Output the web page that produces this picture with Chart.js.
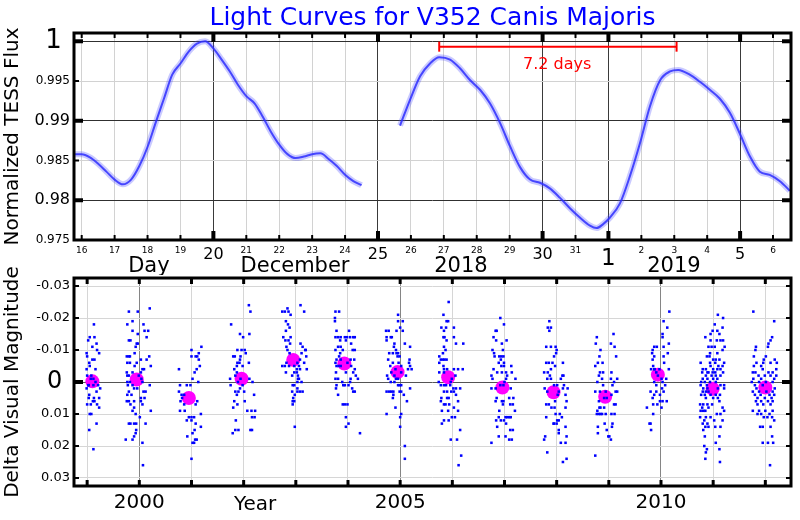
<!DOCTYPE html>
<html><head><meta charset="utf-8">
<script src="https://cdn.jsdelivr.net/npm/chart.js@4/dist/chart.umd.min.js"></script>
<style>
html,body{margin:0;padding:0;background:#fff;}
#wrap{position:relative;width:800px;height:520px;}
canvas{position:absolute;left:0;}
</style>
</head><body>
<div id="wrap">
<canvas id="lc" width="800" height="275" style="top:0"></canvas>
<canvas id="vm" width="800" height="265" style="top:255px"></canvas>
</div>
<script>
// ---------- TOP PANEL: TESS light curve (day = day of December 2018; Jan 1 = 32) ----------
const lcDay1  = [15.8,16.0,16.25,16.5,16.75,17.0,17.25,17.5,17.75,18.0,18.25,18.5,18.75,19.0,19.25,19.5,19.75,20.0,20.25,20.5,20.75,21.0,21.25,21.5,21.75,22.0,22.25,22.5,22.75,23.0,23.25,23.5,23.75,24.0,24.25,24.5];
const lcFlux1 = [0.9858,0.9858,0.9854,0.9846,0.9836,0.9826,0.9820,0.9826,0.9843,0.9867,0.9898,0.9928,0.9958,0.9972,0.9987,0.9997,1.0000,0.9991,0.9977,0.9962,0.9945,0.9931,0.9922,0.9905,0.9886,0.9870,0.9858,0.9853,0.9855,0.9858,0.9859,0.9852,0.9843,0.9832,0.9824,0.9819];
const lcDay2  = [25.67,25.97,26.28,26.58,26.86,27.19,27.49,27.80,28.10,28.40,28.71,29.01,29.31,29.62,29.92,30.22,30.53,30.83,31.14,31.44,31.64,31.84,32.04,32.35,32.65,32.96,33.26,33.57,33.87,34.12,34.47,34.78,35.08,35.38,35.69,35.99,36.30,36.60,36.90,37.21,37.51];
const lcFlux2 = [0.9894,0.9926,0.9956,0.9972,0.9980,0.9977,0.9966,0.9951,0.9939,0.9922,0.9897,0.9868,0.9842,0.9826,0.9822,0.9815,0.9803,0.9790,0.9778,0.9768,0.9765,0.9770,0.9778,0.9796,0.9830,0.9872,0.9918,0.9951,0.9962,0.9964,0.9958,0.9949,0.9939,0.9928,0.9910,0.9884,0.9855,0.9836,0.9832,0.9824,0.9812];
const periodDays  = [26.86, 34.07];
const periodLevel = 0.99932;
const periodText  = '7.2 days';

const dayTicks      = [16,17,18,19,20,21,22,23,24,25,26,27,28,29,30,31,32,33,34,35,36,37];
const dayTickLabels = ['16','17','18','19','20','21','22','23','24','25','26','27','28','29','30','31','1','2','3','4','5','6'];
const dayMajor      = [20,25,30,32,36];
const fluxTicks      = [0.975,0.98,0.985,0.99,0.995,1];
const fluxTickLabels = ['0.975','0.98','0.985','0.99','0.995','1'];
const fluxMajor      = [0.98,0.99,1];

// ---------- BOTTOM PANEL: visual estimates (decimal year, milli-magnitudes) ----------
const obs1999 = [[1999.13,-18],[1999.05,-14],[1999.14,-14],[1999.02,-13],[1999.18,-12],[1999.10,-11],[1999.19,-10],[1999.23,-9],[1998.99,-9],[1999.00,-8],[1999.10,-7],[1999.14,-7],[1999.04,-6],[1999.05,-5],[1998.99,-4],[1999.16,-4],[1999.08,-2],[1999.00,-2],[1999.12,-1],[1999.07,-1],[1999.03,1],[1999.12,1],[1999.21,1],[1999.25,2],[1999.18,3],[1999.04,4],[1999.03,5],[1999.13,5],[1999.23,5],[1999.11,6],[1999.14,6],[1999.19,7],[1999.00,7],[1999.07,7],[1999.23,8],[1999.05,10],[1999.08,10],[1999.18,13],[1999.04,15],[1999.12,21],[1999.02,1],[1999.16,0],[1998.99,2]];
const obs2000 = [[1999.80,-22],[1999.97,-22],[2000.20,-23],[1999.87,-19],[1999.77,-18],[2000.08,-18],[2000.10,-16],[2000.17,-16],[1999.87,-16],[1999.97,-15],[2000.14,-14],[1999.80,-13],[1999.83,-13],[1999.95,-12],[1999.97,-12],[1999.93,-11],[1999.91,-9],[1999.76,-8],[1999.80,-8],[1999.82,-8],[2000.19,-8],[2000.22,-5],[2000.14,-7],[1999.77,-6],[1999.82,-6],[1999.95,-6],[1999.91,-5],[2000.03,-7],[2000.06,-4],[2000.09,-4],[1999.76,-3],[1999.87,-3],[2000.03,-3],[1999.77,-2],[1999.80,-2],[2000.04,-1],[1999.77,0],[1999.82,0],[2000.06,0],[2000.20,1],[1999.78,1],[1999.90,2],[1999.96,2],[2000.08,3],[2000.12,3],[1999.77,4],[1999.85,4],[2000.03,5],[2000.10,5],[1999.76,6],[1999.80,6],[1999.90,6],[2000.03,6],[1999.83,7],[2000.06,7],[1999.90,8],[1999.87,9],[1999.93,10],[2000.22,9],[2000.01,11],[1999.80,13],[1999.83,13],[1999.90,13],[1999.94,13],[2000.12,13],[1999.94,15],[1999.93,16],[1999.90,17],[1999.74,18],[1999.87,18],[2000.06,19],[2000.07,26],[1999.99,-2],[1999.80,3],[1999.87,1]];
const obs2001 = [[2000.76,-4],[2000.78,1],[2000.91,1],[2000.98,1],[2001.02,-1],[2000.76,3],[2000.81,4],[2000.86,4],[2000.82,5],[2000.79,6],[2000.86,7],[2000.78,9],[2000.87,9],[2000.95,11],[2001.00,11],[2000.91,12],[2001.00,12],[2000.92,17],[2001.02,16],[2001.02,19],[2001.00,24],[2001.00,-10],[2001.00,-8],[2001.19,-11],[2001.14,-9],[2001.08,-8],[2001.11,-8],[2001.14,-7],[2001.16,-5],[2001.10,-4],[2001.06,-3],[2001.13,0],[2001.11,6],[2001.08,7],[2001.18,10],[2001.05,11],[2001.08,13],[2001.18,14],[2001.06,15],[2001.10,18],[2001.05,19],[2001.07,18]];
const obs2002 = [[2002.10,-24],[2002.13,-22],[2001.76,-18],[2001.93,-15],[2002.11,-15],[2001.99,-14],[2001.88,-10],[2001.96,-10],[2002.02,-10],[2002.04,-9],[2001.80,-8],[2001.83,-8],[2001.94,-8],[2001.93,-7],[2001.88,-6],[2001.92,-6],[2001.87,-5],[2001.98,-5],[2001.82,-4],[2002.10,-6],[2001.87,-3],[2001.84,-2],[2001.74,-1],[2002.11,-1],[2001.89,0],[2002.17,0],[2001.75,1],[2001.98,1],[2001.93,2],[2001.84,3],[2001.90,3],[2002.01,3],[2001.87,4],[2002.20,4],[2001.82,6],[2002.02,6],[2001.88,7],[2001.80,8],[2002.07,9],[2002.15,9],[2002.22,9],[2002.16,11],[2002.21,11],[2001.85,12],[2002.13,15],[2002.16,15],[2001.84,15],[2001.90,15],[2001.79,16],[2001.94,-1]];
const obs2003 = [[2002.84,-23],[2003.09,-24],[2002.74,-22],[2002.79,-22],[2002.86,-22],[2003.16,-22],[2002.90,-21],[2002.81,-19],[2002.85,-18],[2002.88,-17],[2002.81,-16],[2002.76,-14],[2002.90,-14],[2002.80,-13],[2002.86,-13],[2002.89,-12],[2002.82,-11],[2003.09,-12],[2003.13,-11],[2003.18,-10],[2003.19,-10],[2002.84,-10],[2002.88,-9],[2003.11,-9],[2003.20,-8],[2003.08,-7],[2002.82,-6],[2003.03,-6],[2003.16,-6],[2002.74,-5],[2002.79,-5],[2002.87,-5],[2002.97,-5],[2003.06,-5],[2003.21,-4],[2003.02,-4],[2003.08,-4],[2002.81,-3],[2002.97,-3],[2003.02,-3],[2003.04,-2],[2003.06,-1],[2003.11,0],[2003.03,0],[2002.97,1],[2002.94,1],[2003.03,2],[2002.93,3],[2003.03,3],[2003.08,3],[2003.13,3],[2002.98,4],[2002.95,5],[2002.94,6],[2002.97,6],[2002.94,7],[2002.98,14],[2002.93,-2],[2003.04,-1]];
const obs2004 = [[2003.76,-22],[2003.83,-22],[2003.75,-20],[2003.75,-19],[2003.78,-16],[2004.02,-16],[2003.76,-14],[2003.81,-14],[2003.86,-14],[2003.94,-14],[2003.98,-14],[2004.04,-14],[2004.10,-14],[2004.13,-14],[2003.85,-13],[2003.96,-13],[2004.06,-12],[2003.81,-11],[2003.86,-11],[2003.76,-10],[2003.90,-10],[2004.09,-10],[2004.13,-10],[2003.85,-9],[2003.83,-8],[2003.78,-7],[2003.86,-7],[2004.05,-7],[2004.12,-7],[2003.76,-6],[2003.78,-5],[2003.99,-6],[2003.82,-5],[2003.86,-5],[2004.06,-5],[2004.13,-4],[2003.77,-3],[2003.96,-3],[2004.10,-3],[2004.15,-2],[2004.19,-1],[2003.76,-1],[2003.81,-1],[2004.05,-1],[2003.89,0],[2003.94,1],[2004.01,1],[2003.78,1],[2003.77,2],[2004.08,2],[2004.10,3],[2004.13,3],[2003.81,4],[2003.90,7],[2003.94,7],[2003.99,7],[2003.96,11],[2004.01,13],[2003.96,14],[2004.23,16],[2003.91,1],[2004.04,0]];
const obs2005 = [[2004.96,-21],[2004.96,-19],[2005.05,-19],[2005.00,-17],[2004.73,-16],[2004.78,-16],[2004.93,-16],[2005.05,-16],[2004.74,-14],[2004.82,-14],[2004.84,-14],[2004.74,-13],[2004.89,-12],[2005.09,-12],[2004.88,-11],[2005.19,-11],[2004.92,-10],[2004.79,-9],[2004.86,-9],[2004.93,-9],[2004.96,-9],[2004.99,-8],[2004.95,-8],[2004.77,-7],[2005.18,-7],[2004.86,-6],[2004.97,-6],[2005.17,-6],[2004.81,-5],[2005.02,-5],[2005.19,-5],[2004.91,-4],[2005.15,-4],[2005.22,-4],[2004.83,-3],[2005.02,-3],[2004.75,-2],[2004.89,-2],[2005.11,-2],[2004.96,-1],[2004.77,-1],[2004.89,0],[2004.82,0],[2004.96,1],[2005.02,1],[2005.19,2],[2004.74,3],[2004.79,3],[2004.83,3],[2004.87,3],[2004.99,3],[2005.02,3],[2004.87,4],[2005.07,4],[2004.86,5],[2005.13,6],[2004.91,8],[2004.74,10],[2005.02,10],[2005.00,11],[2005.00,14],[2005.09,20],[2005.09,24],[2004.99,1],[2004.92,-1]];
const obs2006 = [[2005.93,-25],[2005.83,-21],[2005.89,-19],[2005.92,-19],[2005.79,-17],[2005.88,-17],[2005.84,-16],[2006.03,-17],[2005.83,-14],[2005.85,-14],[2005.89,-13],[2006.03,-14],[2006.07,-12],[2006.21,-12],[2005.84,-11],[2005.87,-10],[2005.82,-9],[2005.75,-8],[2005.78,-7],[2005.82,-7],[2005.85,-7],[2005.89,-7],[2005.75,-6],[2005.83,-5],[2005.84,-4],[2005.90,-4],[2006.03,-4],[2006.11,-4],[2006.20,-4],[2005.75,-3],[2005.84,-3],[2006.06,-2],[2005.99,-1],[2005.74,0],[2005.97,0],[2005.84,1],[2005.88,1],[2005.96,1],[2006.02,2],[2006.07,2],[2006.15,2],[2005.98,3],[2006.03,3],[2005.84,3],[2005.90,3],[2006.07,4],[2005.79,5],[2005.90,5],[2005.93,5],[2006.11,6],[2005.78,6],[2005.87,7],[2005.84,7],[2005.94,7],[2006.03,8],[2005.80,9],[2005.92,9],[2006.11,9],[2005.99,11],[2006.05,11],[2005.84,12],[2005.80,13],[2005.93,12],[2006.15,15],[2005.97,18],[2006.09,18],[2006.17,23],[2006.12,26],[2005.78,1]];
const obs2007 = [[2006.92,-20],[2006.99,-18],[2006.83,-16],[2006.85,-16],[2006.79,-14],[2006.95,-12],[2007.04,-13],[2006.84,-13],[2006.77,-10],[2006.97,-10],[2006.80,-9],[2006.81,-8],[2006.90,-8],[2006.94,-8],[2006.98,-8],[2006.93,-7],[2006.99,-6],[2006.89,-6],[2006.94,-5],[2007.13,-5],[2006.99,-5],[2006.79,-4],[2006.86,-3],[2006.95,-3],[2007.03,-3],[2007.14,-3],[2006.75,-2],[2007.05,-2],[2007.21,-1],[2006.77,-1],[2007.03,-1],[2006.83,2],[2006.75,2],[2006.92,1],[2006.98,1],[2007.12,2],[2006.85,5],[2007.09,5],[2007.17,5],[2006.83,6],[2006.95,6],[2006.98,6],[2006.97,7],[2007.11,7],[2007.16,7],[2006.90,9],[2007.20,9],[2006.89,11],[2007.02,11],[2007.05,11],[2007.09,11],[2007.12,11],[2006.93,12],[2006.84,12],[2006.99,12],[2007.03,13],[2006.86,14],[2007.11,15],[2007.16,15],[2007.02,17],[2006.89,17],[2007.09,18],[2007.14,18],[2006.75,19],[2007.00,0]];
const obs2008 = [[2007.86,-19],[2007.83,-17],[2007.89,-17],[2007.86,-16],[2007.80,-11],[2007.89,-11],[2007.80,-6],[2007.85,-6],[2007.92,-6],[2007.76,-3],[2007.83,-3],[2007.87,-2],[2007.82,-1],[2007.89,-1],[2007.77,2],[2007.82,3],[2007.80,7],[2007.85,7],[2007.90,8],[2007.80,11],[2007.94,13],[2007.78,17],[2007.76,18],[2007.82,22],[2007.89,-4],[2007.98,-11],[2008.00,-10],[2007.99,-9],[2007.95,-8],[2007.97,-5],[2008.12,-6],[2008.11,-2],[2008.08,-1],[2008.13,-2],[2007.95,1],[2008.01,1],[2008.14,1],[2008.12,2],[2008.21,2],[2008.04,3],[2008.02,4],[2008.17,4],[2008.19,6],[2007.97,6],[2007.96,8],[2008.17,8],[2008.06,10],[2008.10,11],[2008.01,12],[2008.04,12],[2007.95,13],[2008.00,13],[2008.17,14],[2008.04,16],[2008.19,17],[2008.08,19],[2008.17,19],[2008.12,25],[2008.19,24],[2008.04,15],[2007.98,10]];
const obs2009 = [[2009.09,-15],[2008.77,-14],[2008.75,-12],[2009.04,-12],[2009.11,-11],[2008.84,-10],[2008.82,-8],[2009.14,-8],[2008.74,-5],[2008.79,-6],[2008.88,-6],[2008.83,-3],[2009.05,-3],[2008.89,-3],[2008.81,-2],[2008.87,-1],[2009.16,-1],[2009.04,-1],[2008.78,0],[2009.10,0],[2008.89,1],[2009.07,1],[2008.74,3],[2008.83,3],[2008.94,3],[2009.13,3],[2009.16,3],[2009.05,4],[2008.96,5],[2008.91,5],[2009.10,7],[2009.13,7],[2008.81,6],[2008.82,8],[2008.84,8],[2008.78,9],[2008.81,10],[2008.77,10],[2008.84,10],[2008.87,10],[2008.94,10],[2009.05,10],[2009.11,10],[2009.07,13],[2008.92,13],[2008.79,14],[2009.06,14],[2008.96,15],[2008.79,16],[2008.99,17],[2009.01,17],[2009.04,18],[2008.74,23],[2008.91,8]];
const obs2010 = [[2010.16,-22],[2010.05,-19],[2010.12,-17],[2010.03,-15],[2010.03,-14],[2010.15,-12],[2009.87,-11],[2009.92,-11],[2009.84,-10],[2010.05,-11],[2010.13,-9],[2009.83,-9],[2010.05,-8],[2009.87,-8],[2009.84,-7],[2009.85,-5],[2009.81,-4],[2009.87,-4],[2009.97,-4],[2010.15,-4],[2009.91,-3],[2010.06,-6],[2009.94,-2],[2010.01,-1],[2009.87,0],[2009.91,1],[2010.03,0],[2010.08,1],[2009.80,3],[2009.87,4],[2009.98,4],[2009.91,3],[2010.02,2],[2010.05,3],[2009.84,5],[2009.98,6],[2010.03,6],[2010.11,6],[2009.85,7],[2009.93,7],[2009.73,8],[2010.01,8],[2009.85,10],[2009.78,13],[2009.80,13],[2009.81,15],[2009.88,-4],[2010.10,-1]];
const obs2011 = [[2011.09,-21],[2011.19,-20],[2011.03,-18],[2011.18,-17],[2010.99,-16],[2011.08,-16],[2010.85,-14],[2010.95,-15],[2011.12,-15],[2010.95,-13],[2011.07,-13],[2011.14,-13],[2011.19,-13],[2010.91,-11],[2010.97,-11],[2011.03,-11],[2011.22,-11],[2011.18,-10],[2011.08,-9],[2010.94,-9],[2010.88,-8],[2010.93,-8],[2011.00,-7],[2011.05,-7],[2011.12,-7],[2010.76,-6],[2010.94,-6],[2011.04,-6],[2011.21,-6],[2011.10,-5],[2010.95,-5],[2011.18,-5],[2010.80,-4],[2010.86,-4],[2011.00,-4],[2011.08,-4],[2011.14,-4],[2010.79,-3],[2010.89,-3],[2010.91,-3],[2010.99,-3],[2011.04,-3],[2011.19,-3],[2010.86,-2],[2010.97,-2],[2011.05,-2],[2011.14,-2],[2010.80,-1],[2010.89,-1],[2011.00,-1],[2011.08,-1],[2010.77,0],[2010.84,0],[2010.94,0],[2011.05,0],[2011.21,1],[2010.76,1],[2010.88,1],[2011.14,1],[2010.81,2],[2010.89,2],[2011.09,2],[2011.21,2],[2010.80,3],[2010.86,3],[2010.91,3],[2010.77,4],[2010.84,4],[2010.95,4],[2011.05,4],[2011.13,4],[2010.86,5],[2011.00,5],[2011.09,5],[2010.75,7],[2010.81,7],[2010.89,7],[2010.98,7],[2011.12,6],[2010.79,8],[2010.91,8],[2011.18,8],[2010.76,9],[2010.81,9],[2010.85,9],[2011.07,10],[2011.21,9],[2011.14,10],[2010.75,11],[2010.86,11],[2010.95,11],[2010.83,12],[2010.80,13],[2010.89,13],[2011.02,12],[2011.18,12],[2010.85,14],[2010.91,14],[2011.04,14],[2010.81,15],[2011.14,14],[2010.84,17],[2011.12,17],[2011.05,19],[2010.83,20],[2010.88,21],[2010.86,22],[2010.85,24],[2011.12,21],[2011.13,25]];
const obs2012 = [[2011.77,-22],[2012.17,-19],[2012.13,-14],[2012.10,-13],[2012.06,-12],[2012.05,-11],[2011.82,-11],[2011.81,-10],[2011.78,-8],[2012.01,-8],[2011.97,-7],[2012.18,-7],[2011.96,-6],[2012.10,-6],[2011.83,-6],[2012.22,-6],[2011.78,-5],[2011.92,-5],[2012.21,-4],[2011.76,-3],[2011.81,-3],[2011.95,-4],[2012.06,-3],[2012.14,-3],[2012.21,-2],[2011.87,-2],[2011.99,-2],[2012.10,-2],[2011.77,-1],[2011.92,-1],[2012.17,-1],[2011.74,0],[2011.88,0],[2012.01,0],[2012.14,0],[2011.80,1],[2011.83,2],[2011.95,1],[2012.18,2],[2011.76,3],[2011.88,3],[2012.02,3],[2012.14,3],[2011.80,4],[2011.91,4],[2012.08,4],[2012.17,4],[2011.85,5],[2011.99,5],[2012.12,5],[2011.82,6],[2011.92,6],[2012.05,6],[2012.14,6],[2011.85,7],[2011.96,7],[2012.10,7],[2011.76,9],[2011.88,9],[2012.00,9],[2012.14,9],[2011.85,10],[2011.92,10],[2012.08,10],[2011.97,11],[2012.04,11],[2012.13,11],[2011.90,14],[2011.95,14],[2012.10,14],[2012.17,12],[2012.13,17],[2011.95,19],[2012.05,19],[2012.15,19],[2012.09,26]];

const meanYear = [1999.10,1999.95,2000.95,2001.96,2002.95,2003.93,2004.95,2005.92,2006.96,2007.94,2008.93,2009.94,2010.99,2012.00];
const meanMag  = [-0.0002,-0.0008,0.0050,-0.0010,-0.0069,-0.0058,-0.0031,-0.0015,0.0017,0.0032,0.0046,-0.0023,0.0021,0.0017];

const yearTicks      = [1999,2000,2001,2002,2003,2004,2005,2006,2007,2008,2009,2010,2011,2012];
const yearTickLabels = ['','2000','','','','','2005','','','','','2010','',''];
const yearMajor      = [2000,2005,2010];
const magTicks       = [-0.03,-0.02,-0.01,0,0.01,0.02,0.03];
const magTickLabels  = ['-0.03','-0.02','-0.01','0','0.01','0.02','0.03'];
const magMajor       = [0];

// ---------- rendering ----------
const FAM = "'DejaVu Sans', sans-serif";
Chart.defaults.font.family = FAM;
Chart.defaults.color = '#000';
const near = (a, b) => Math.abs(a - b) < 1e-6;
const isIn = (v, arr) => arr.some(a => near(a, v));
const PAD_BIG = ' '; // extra gap after the oversized tick labels

const frameTicks = {
  id: 'frameTicks',
  afterDatasetsDraw(chart, args, o) {
    const {ctx, chartArea: a, scales: {x, y}} = chart;
    ctx.save();
    ctx.strokeStyle = '#000';
    const seg = (x1, y1, x2, y2, w) => { ctx.lineWidth = w; ctx.beginPath(); ctx.moveTo(x1, y1); ctx.lineTo(x2, y2); ctx.stroke(); };
    x.ticks.forEach(t => {
      const p = x.getPixelForValue(t.value);
      const s = isIn(t.value, o.xMajor) ? o.major : o.xMinor;
      seg(p, a.bottom, p, a.bottom - s.len, s.w);
      seg(p, a.top, p, a.top + s.len, s.w);
    });
    y.ticks.forEach(t => {
      const p = y.getPixelForValue(t.value);
      const s = isIn(t.value, o.yMajor) ? o.major : o.yMinor;
      seg(a.left, p, a.left + s.len, p, s.w);
      seg(a.right, p, a.right - s.len, p, s.w);
    });
    ctx.lineWidth = 3;
    ctx.strokeRect(a.left, a.top, a.right - a.left, a.bottom - a.top);
    (o.texts || []).forEach(tx => {
      ctx.font = tx.font;
      ctx.fillStyle = tx.color || '#000';
      ctx.textAlign = 'center';
      ctx.textBaseline = 'alphabetic';
      const px = tx.xv !== undefined ? x.getPixelForValue(tx.xv) : (a.left + a.right) / 2;
      const py = tx.yv !== undefined ? y.getPixelForValue(tx.yv) : (tx.below !== undefined ? a.bottom + tx.below : tx.py);
      ctx.fillText(tx.text, px, py);
    });
    ctx.restore();
  }
};

const pts = (xs, ys) => xs.map((v, i) => ({x: v, y: ys[i]}));
const lcBand = (xs, ys) => [
  {data: pts(xs, ys), borderColor: 'rgba(80,80,255,0.30)', borderWidth: 6, pointRadius: 0, cubicInterpolationMode: 'monotone', fill: false},
  {data: pts(xs, ys), borderColor: 'rgba(30,30,255,0.85)', borderWidth: 2, pointRadius: 0, cubicInterpolationMode: 'monotone', fill: false}
];

new Chart(document.getElementById('lc'), {
  type: 'line',
  data: {
    datasets: [
      ...lcBand(lcDay1, lcFlux1),
      ...lcBand(lcDay2, lcFlux2),
      {data: periodDays.map(d => ({x: d, y: periodLevel})), borderColor: '#ff0000', borderWidth: 2,
       pointStyle: 'line', pointRotation: 90, pointRadius: 5, pointBorderColor: '#ff0000', pointBorderWidth: 2, fill: false}
    ]
  },
  options: {
    responsive: false, animation: false, devicePixelRatio: 1, events: [],
    layout: {padding: {top: 33, right: 9, left: 0, bottom: 0}},
    plugins: {
      legend: {display: false}, tooltip: {enabled: false},
      frameTicks: {
        xMajor: dayMajor, yMajor: fluxMajor,
        major: {len: 9, w: 4}, xMinor: {len: 5, w: 2}, yMinor: {len: 5, w: 2},
        texts: [
          {text: 'Light Curves for V352 Canis Majoris', font: "25px " + FAM, color: '#0000ff', py: 25},
          {text: periodText, font: "16px " + FAM, color: '#ff0000', xv: (periodDays[0] + periodDays[1]) / 2 - 0.02, yv: 0.99652},
          {text: 'Day', font: "21px " + FAM, xv: 18.04, below: 32},
          {text: 'December', font: "21px " + FAM, xv: 22.48, below: 32},
          {text: '2018', font: "21px " + FAM, xv: 27.52, below: 32},
          {text: '2019', font: "21px " + FAM, xv: 33.99, below: 32}
        ]
      }
    },
    scales: {
      x: {
        type: 'linear', min: 15.766, max: 37.546,
        afterBuildTicks: s => { s.ticks = dayTicks.map(v => ({value: v})); },
        afterFit: s => { s.height = 35; },
        border: {display: false},
        grid: {drawTicks: false, lineWidth: 1,
               color: c => (c.tick && isIn(c.tick.value, dayMajor)) ? '#3a3a3a' : '#d2d2d2'},
        ticks: {padding: 5, autoSkip: false, maxRotation: 0, minRotation: 0,
                callback: (v, i) => dayTickLabels[i],
                font: c => ({family: FAM, size: !c.tick ? 9 : near(c.tick.value, 32) ? 23 : isIn(c.tick.value, dayMajor) ? 16 : 9})}
      },
      y: {
        type: 'linear', min: 0.975, max: 1.00104,
        afterBuildTicks: s => { s.ticks = fluxTicks.map(v => ({value: v})); },
        afterFit: s => { s.width = 74; },
        border: {display: false},
        grid: {drawTicks: false, lineWidth: 1,
               color: c => (c.tick && isIn(c.tick.value, fluxMajor)) ? '#303030' : '#d2d2d2'},
        ticks: {padding: 4, autoSkip: false,
                callback: (v, i) => near(v, 1) ? fluxTickLabels[i] + PAD_BIG : fluxTickLabels[i],
                font: c => ({family: FAM, size: !c.tick ? 12 : near(c.tick.value, 1) ? 26 : isIn(c.tick.value, fluxMajor) ? 16 : 12})},
        title: {display: true, text: 'Normalized TESS Flux', font: {family: FAM, size: 20}, padding: {top: 1, bottom: 0}}
      }
    }
  },
  plugins: [frameTicks]
});

const obsSeasons = [obs1999, obs2000, obs2001, obs2002, obs2003, obs2004, obs2005, obs2006, obs2007, obs2008, obs2009, obs2010, obs2011, obs2012];
const obsPoints = obsSeasons.flatMap(s => s.map(([t, mm]) => ({x: t, y: mm / 1000})));

new Chart(document.getElementById('vm'), {
  type: 'scatter',
  data: {
    datasets: [
      {data: obsPoints, backgroundColor: '#0000ff', borderWidth: 0, pointRadius: 1.8, pointStyle: 'rect'},
      {data: pts(meanYear, meanMag), backgroundColor: '#ff00ff', borderWidth: 0, pointRadius: 7}
    ]
  },
  options: {
    responsive: false, animation: false, devicePixelRatio: 1, events: [],
    layout: {padding: {top: 23, right: 9, left: 0, bottom: 0}},
    plugins: {
      legend: {display: false}, tooltip: {enabled: false},
      frameTicks: {
        xMajor: [], yMajor: magMajor,
        major: {len: 9, w: 4}, xMinor: {len: 6, w: 3}, yMinor: {len: 5, w: 2},
        texts: [{text: 'Year', font: "20px " + FAM, xv: 2002.22, below: 24}]
      }
    },
    scales: {
      x: {
        type: 'linear', min: 1998.748, max: 2012.492,
        afterBuildTicks: s => { s.ticks = yearTicks.map(v => ({value: v})); },
        afterFit: s => { s.height = 34; },
        border: {display: false},
        grid: {drawTicks: false, lineWidth: 1,
               color: c => (c.tick && isIn(c.tick.value, yearMajor)) ? '#858585' : '#d6d6d6'},
        ticks: {padding: 5, autoSkip: false, maxRotation: 0, minRotation: 0,
                callback: (v, i) => yearTickLabels[i], font: {family: FAM, size: 20}}
      },
      y: {
        type: 'linear', reverse: true, min: -0.0325, max: 0.0325,
        afterBuildTicks: s => { s.ticks = magTicks.map(v => ({value: v})); },
        afterFit: s => { s.width = 74; },
        border: {display: false},
        grid: {drawTicks: false, lineWidth: 1,
               color: c => (c.tick && isIn(c.tick.value, magMajor)) ? '#555555' : '#d6d6d6'},
        ticks: {padding: 4, autoSkip: false,
                callback: (v, i) => near(v, 0) ? magTickLabels[i] + PAD_BIG : magTickLabels[i],
                font: c => ({family: FAM, size: (c.tick && near(c.tick.value, 0)) ? 24 : 13})},
        title: {display: true, text: 'Delta Visual Magnitude', font: {family: FAM, size: 20}, padding: {top: 1, bottom: 0}}
      }
    }
  },
  plugins: [frameTicks]
});
</script>
</body></html>
